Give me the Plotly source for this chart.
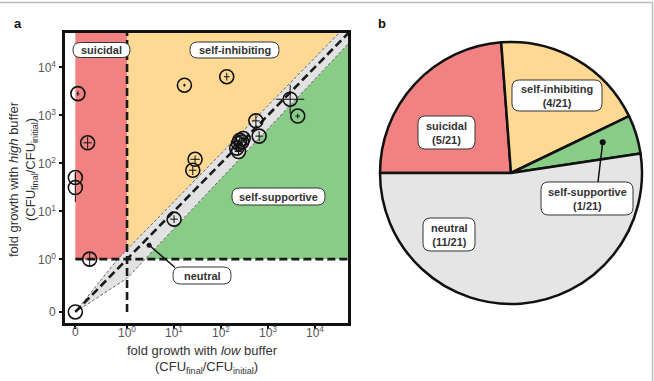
import plotly.graph_objects as go
import numpy as np

W, H = 654, 381
ZERO_POS = -1.1  # axis position (log10 units) used for a fold growth of 0

# ---------------- data ----------------
categories = ["suicidal", "self-inhibiting", "self-supportive", "neutral"]
counts = [5, 4, 1, 11]
n_total = 21

# fold growth (CFU_final / CFU_initial) with low buffer (x) and high buffer (y)
low_buffer = [0.09, 0.145, 0, 0, 0.16,            # suicidal
              16.6, 132, 28, 25,                  # self-inhibiting
              4270,                               # self-supportive
              2950, 550, 645, 295, 250, 275, 235, 215, 235, 10.0, 0]  # neutral
high_buffer = [2800, 265, 50, 31, 1.0,
               4200, 6300, 120, 71,
               955,
               2140, 760, 365, 325, 300, 275, 257, 205, 174, 6.8, 0]
# error bars (half-width, in decades)
err_low = [0.03, 0.09, 0.0, 0.0, 0.09, 0.03, 0.06, 0.1, 0.08, 0.05,
           0.3, 0.08, 0.08, 0.08, 0.08, 0.08, 0.08, 0.08, 0.08, 0.08, 0.0]
err_high = [0.05, 0.12, 0.12, 0.3, 0.15, 0.03, 0.08, 0.08, 0.1, 0.05,
            0.3, 0.12, 0.1, 0.08, 0.08, 0.08, 0.08, 0.08, 0.08, 0.08, 0.0]

tickvals = [ZERO_POS, 0, 1, 2, 3, 4]
ticktext = ["0", "10<sup>0</sup>", "10<sup>1</sup>", "10<sup>2</sup>", "10<sup>3</sup>", "10<sup>4</sup>"]

pie_colors = ["#F28282", "#FDD994", "#88CC88", "#E5E5E5"]


def tpos(v):
    return ZERO_POS if v == 0 else float(np.log10(v))


xs = [tpos(v) for v in low_buffer]
ys = [tpos(v) for v in high_buffer]


def px(x):
    return x / W


def py(y):
    return 1 - y / H


XR = [-1.32, 4.70]
YR = [-1.33, 4.71]
ax_x0, ax_x1, ax_y0, ax_y1 = 65, 348, 33, 323

fig = go.Figure()

# ---------------- region fills ----------------
BIG = 5.2
upper_edge = [(ZERO_POS, ZERO_POS), (-0.2, 0.0), (BIG - 0.2, BIG)]
lower_edge = [(ZERO_POS, ZERO_POS), (0.0, -0.4), (1.3, 0.95), (BIG, BIG - 0.2)]


def path_from(pts, close=True):
    s = "M " + " L ".join(f"{x},{y}" for x, y in pts)
    return s + (" Z" if close else "")


shapes = []
shapes.append(dict(type="rect", xref="x", yref="y", x0=ZERO_POS, x1=0, y0=0, y1=BIG,
                   fillcolor=pie_colors[0], line=dict(width=0), layer="below"))
shapes.append(dict(type="path", xref="x", yref="y",
                   path=path_from([(0, 0.2), (BIG - 0.2, BIG), (0, BIG)]),
                   fillcolor=pie_colors[1], line=dict(width=0), layer="below"))
x_cross = 0.4 * 1.3 / 1.35
shapes.append(dict(type="path", xref="x", yref="y",
                   path=path_from([(x_cross, 0), (BIG, 0), (BIG, BIG - 0.2), (1.3, 0.95)]),
                   fillcolor=pie_colors[2], line=dict(width=0), layer="below"))
band = upper_edge + lower_edge[::-1][:-1]
shapes.append(dict(type="path", xref="x", yref="y", path=path_from(band),
                   fillcolor="#E2E2E2", line=dict(width=0), layer="below"))
for edge in (upper_edge, lower_edge):
    shapes.append(dict(type="path", xref="x", yref="y", path=path_from(edge, close=False),
                       line=dict(color="#666666", width=1, dash="3px,2px"), layer="below"))
dl = dict(color="#1a1a1a", width=2.6, dash="8px,4px")
shapes.append(dict(type="line", xref="x", yref="y", x0=ZERO_POS, y0=ZERO_POS, x1=BIG, y1=BIG, line=dl, layer="below"))
shapes.append(dict(type="line", xref="x", yref="y", x0=0, y0=ZERO_POS, x1=0, y1=BIG, line=dl, layer="below"))
shapes.append(dict(type="line", xref="x", yref="y", x0=ZERO_POS, y0=0, x1=BIG, y1=0, line=dl, layer="below"))

# ---------------- data points ----------------
fig.add_trace(go.Scatter(
    x=xs, y=ys, mode="markers",
    marker=dict(symbol="circle-open", size=14, color="#111111", line=dict(width=1.6, color="#111111")),
    error_x=dict(type="data", array=err_low, visible=True, color="#111111", thickness=1, width=0),
    error_y=dict(type="data", array=err_high, visible=True, color="#111111", thickness=1, width=0),
    hoverinfo="skip", showlegend=False, cliponaxis=False, xaxis="x", yaxis="y"))

fig.add_trace(go.Scatter(x=[0.47], y=[0.29], mode="markers",
                         marker=dict(size=5, color="#111111"), hoverinfo="skip",
                         showlegend=False, xaxis="x", yaxis="y"))

# ---------------- pie ----------------
pcx, pcy, pr = 511, 173, 131
fig.add_trace(go.Pie(
    labels=categories, values=counts, sort=False, direction="clockwise", rotation=270,
    marker=dict(colors=pie_colors, line=dict(color="#111111", width=2.5)),
    textinfo="none", hoverinfo="skip", showlegend=False,
    domain=dict(x=[px(pcx - pr), px(pcx + pr)], y=[py(pcy + pr), py(pcy - pr)])))


def rbox(cx, cy, w, h, r):
    x0, x1, y0, y1 = cx - w / 2, cx + w / 2, cy - h / 2, cy + h / 2

    def p(x, y):
        return f"{px(x):.5f},{py(y):.5f}"
    return (f"M {p(x0 + r, y0)} L {p(x1 - r, y0)} Q {p(x1, y0)} {p(x1, y0 + r)} "
            f"L {p(x1, y1 - r)} Q {p(x1, y1)} {p(x1 - r, y1)} L {p(x0 + r, y1)} "
            f"Q {p(x0, y1)} {p(x0, y1 - r)} L {p(x0, y0 + r)} Q {p(x0, y0)} {p(x0 + r, y0)} Z")


annotations = []
FONT = "Liberation Sans, Arial, sans-serif"
TXT = "#333333"


def ann(text, x, y, size, color=TXT, angle=0):
    annotations.append(dict(text=text, x=px(x), y=py(y), xref="paper", yref="paper", showarrow=False,
                            xanchor="center", yanchor="middle", textangle=angle,
                            font=dict(family=FONT, size=size, color=color)))


# tick labels, placed through the axes
for v, t in zip(tickvals, ticktext):
    annotations.append(dict(text=t, x=v, y=py(332), xref="x", yref="paper", showarrow=False,
                            xanchor="center", yanchor="middle",
                            font=dict(family=FONT, size=12, color="#555555")))
    annotations.append(dict(text=t, x=px(58), y=v, xref="paper", yref="y", showarrow=False,
                            xanchor="right", yanchor="middle",
                            font=dict(family=FONT, size=12, color="#555555")))

boxes_a = [("suicidal", 101.5, 50, 57, 15),
           ("self-inhibiting", 234.5, 50, 89, 16),
           ("self-supportive", 278.5, 196.5, 93, 17),
           ("neutral", 202, 275.5, 58, 17)]
boxes_b = [(f"{categories[0]}<br>({counts[0]}/{n_total})", 446.5, 132.5, 57, 33),
           (f"{categories[1]}<br>({counts[1]}/{n_total})", 557, 95.5, 90, 31),
           (f"{categories[2]}<br>({counts[2]}/{n_total})", 587, 198.5, 92, 33),
           (f"{categories[3]}<br>({counts[3]}/{n_total})", 449, 234.5, 52, 33)]

shapes.append(dict(type="line", xref="paper", yref="paper", x0=px(149), y0=py(245), x1=px(175), y1=py(267.5),
                   line=dict(color="#111111", width=1.5)))
shapes.append(dict(type="line", xref="paper", yref="paper", x0=px(602.7), y0=py(142.3), x1=px(598), y1=py(182),
                   line=dict(color="#111111", width=1.5)))
shapes.append(dict(type="circle", xref="paper", yref="paper", x0=px(599.7), y0=py(139.3), x1=px(605.7), y1=py(145.3),
                   fillcolor="#111111", line=dict(width=0)))

for txt, cx, cy, w, h in boxes_a + boxes_b:
    shapes.append(dict(type="path", xref="paper", yref="paper", path=rbox(cx, cy, w, h, min(7.5, h / 2)),
                       fillcolor="white", line=dict(color="#333333", width=1)))
    ann(f"<b>{txt}</b>", cx, cy, 11)

ann("<b>a</b>", 18, 23, 13, "#111111")
ann("<b>b</b>", 382, 23, 13, "#111111")

ann("fold growth with <i>low</i> buffer", 202, 350, 13)
ann("(CFU<sub>final</sub>/CFU<sub>initial</sub>)", 206, 367, 13)
ann("fold growth with <i>high</i> buffer", 13, 179, 13, angle=-90)
ann("(CFU<sub>final</sub>/CFU<sub>initial</sub>)", 31, 170, 13, angle=-90)

shapes.append(dict(type="line", xref="paper", yref="paper", x0=0, y0=py(2.5), x1=px(653), y1=py(2.5),
                   line=dict(color="#bbbbbb", width=1.5)))
shapes.append(dict(type="line", xref="paper", yref="paper", x0=px(652.5), y0=py(2.5), x1=px(652.5), y1=0,
                   line=dict(color="#bbbbbb", width=1.5)))

axis_common = dict(showline=True, linecolor="#111111", linewidth=3, mirror=True, showgrid=False, zeroline=False,
                   ticks="outside", ticklen=3, tickwidth=1.5, tickcolor="#111111",
                   showticklabels=False, tickvals=tickvals)

fig.update_layout(
    width=W, height=H, margin=dict(l=0, r=0, t=0, b=0),
    paper_bgcolor="white", plot_bgcolor="white",
    xaxis=dict(domain=[px(ax_x0), px(ax_x1)], range=XR, anchor="y", **axis_common),
    yaxis=dict(domain=[py(ax_y1), py(ax_y0)], range=YR, anchor="x", **axis_common),
    shapes=shapes, annotations=annotations,
)

fig.write_html("out.html")
